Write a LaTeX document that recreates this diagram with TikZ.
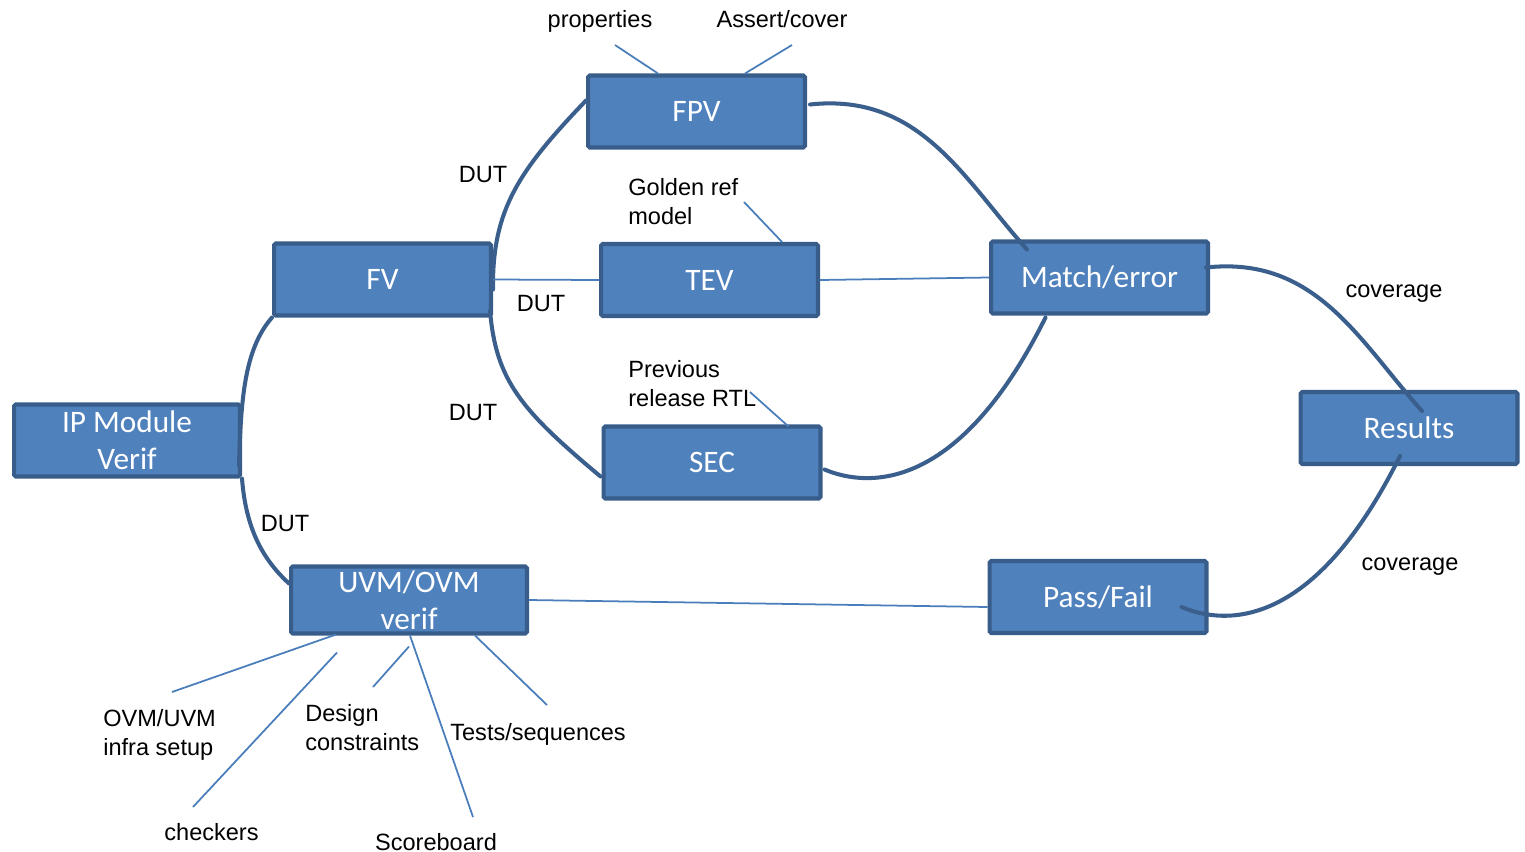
\documentclass[tikz,border=0pt]{standalone}
\usepackage{fontspec}
\setmainfont{Liberation Sans}
\newfontfamily\boxfont{Carlito}
\usepackage{tikz}
\usetikzlibrary{calc}
\definecolor{boxfill}{RGB}{79,129,189}
\definecolor{boxborder}{RGB}{56,93,138}
\definecolor{linkcolor}{RGB}{58,95,140}
\definecolor{notecolor}{RGB}{74,126,187}

\begin{document}
\begin{tikzpicture}[x=0.02cm, y=-0.02cm,
    box/.style={draw=boxborder, fill=boxfill, line width=2.3pt, rounded corners=1pt,
        minimum width=4.34cm, minimum height=1.44cm, inner sep=0pt, text=white,
        align=center, font=\boxfont\fontsize{17.8}{21}\selectfont},
    lbl/.style={inner sep=0pt, font=\fontsize{13.4}{16.2}\selectfont},
    dut/.style={draw=linkcolor, line width=2.3pt, line cap=round},
    note/.style={draw=notecolor, line width=1pt}]
    \useasboundingbox (0,0) rectangle (1525,852);

    % Blocs
    \node[box] (fpv) at (696.5,111.5) {FPV};
    \node[box] (fv) at (382.5,279.5) {FV};
    \node[box] (tev) at (709.5,280) {TEV};
    \node[box] (match) at (1099.5,277.5) {Match/error};
    \node[box] (sec) at (712,462.5) {SEC};
    \node[box, minimum width=4.52cm] (ipmod) at (127,440.5) {IP Module\\Verif};
    \node[box, minimum width=4.72cm, minimum height=1.34cm] (uvm) at (409,600) {UVM/OVM\\verif};
    \node[box] (passfail) at (1098,597) {Pass/Fail};
    \node[box] (results) at (1409,428) {Results};

    % Liens DUT
    \draw[dut] ($(ipmod.east)+(-3,25)$) .. controls +(2,-65) and +(-28,32) .. (fv.south west);
    \draw[dut] (ipmod.south east) .. controls +(4,52) and +(-25,-23) .. ($(uvm.north west)+(0,19)$);
    \draw[dut] ($(fv.east)+(0,10)$) .. controls +(-1,-80) and +(-67,70) .. ($(fpv.west)+(0,-11)$);
    \draw[dut] ($(fv.south east)+(-3,-7)$) .. controls +(6,70) and +(-80,-67) .. ($(sec.west)+(-1,14)$);
    \draw[note] (fv.east) -- (tev.west);
    \node[lbl, anchor=base] (dutfpv) at (483,182) {DUT};
    \node[lbl, anchor=base] (duttev) at (541,311) {DUT};
    \node[lbl, anchor=base] (dutsec) at (473,420) {DUT};
    \node[lbl, anchor=base] (dutuvm) at (285,531) {DUT};

    % Vers Match/error
    \draw[dut] ($(fpv.east)+(3,-7)$) .. controls +(110,-12) and +(-63,-70) .. ($(match.north west)+(38,10)$);
    \draw[note] (tev.east) -- (match.west);
    \draw[dut] ($(sec.east)+(2,7)$) .. controls +(45,19) and +(-86,173) .. ($(match.south)+(-54,2)$);

    % Resultats
    \draw[dut] ($(match.east)+(-4,-10)$) .. controls +(110,-12) and +(-63,-70) .. ($(results.north)+(13,21)$);
    \draw[dut] ($(results.south)+(-9,-10)$) .. controls +(-86,173) and +(45,19) .. ($(passfail.east)+(-27,10)$);
    \draw[note] (uvm.east) -- ($(passfail.west)+(0,10)$);
    \node[lbl, anchor=base] (covtop) at (1394,297) {coverage};
    \node[lbl, anchor=base] (covbot) at (1410,570) {coverage};

    % Annotations FPV, TEV, SEC
    \coordinate (propend) at (615,45);
    \coordinate (assertend) at (792,45);
    \coordinate (goldenend) at (744,202);
    \coordinate (prevend) at (750,392);
    \draw[note] (propend) -- ($(fpv.north west)+(72,0)$);
    \draw[note] (assertend) -- ($(fpv.north west)+(159,0)$);
    \draw[note] (goldenend) -- ($(tev.north west)+(183,0)$);
    \draw[note] (prevend) -- ($(sec.north west)+(187,2)$);
    \node[lbl, anchor=base] (props) at (600,28) {properties};
    \node[lbl, anchor=base] (assert) at (782,28) {Assert/cover};
    \node[lbl, anchor=base west, align=left] (golden) at (628,224) {Golden ref\\model};
    \node[lbl, anchor=base west, align=left] (prevrtl) at (628,406) {Previous\\release RTL};

    % Annotations UVM/OVM
    \coordinate (infraend) at (172,692);
    \coordinate (checkend) at (193,807);
    \coordinate (designend) at (373,687);
    \coordinate (scoreend) at (473,817);
    \coordinate (testend) at (547,705);
    \draw[note] (infraend) -- ($(uvm.south west)+(47,-1)$);
    \draw[note] (checkend) -- ($(uvm.south west)+(48,17)$);
    \draw[note] (designend) -- ($(uvm.south)+(0,11)$);
    \draw[note] (scoreend) -- ($(uvm.south)+(1,0)$);
    \draw[note] (testend) -- ($(uvm.south)+(66,0)$);
    \node[lbl, anchor=base west, align=left] (infra) at (103,755) {OVM/UVM\\infra setup};
    \node[lbl, anchor=base west, align=left] (design) at (305,750) {Design\\constraints};
    \node[lbl, anchor=base west] (tests) at (450,740) {Tests/sequences};
    \node[lbl, anchor=base] (checkers) at (211.5,840) {checkers};
    \node[lbl, anchor=base] (score) at (436,850) {Scoreboard};
\end{tikzpicture}
\end{document}
